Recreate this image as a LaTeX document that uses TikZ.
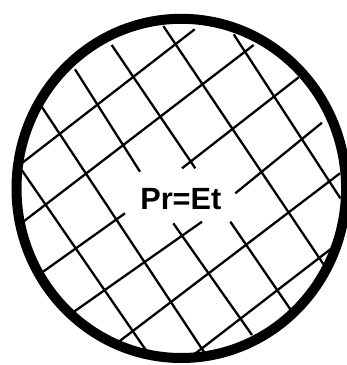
\documentclass[tikz,border=0pt]{standalone}
\usepackage{fontspec}
\setmainfont{Liberation Sans}
\begin{document}
\begin{tikzpicture}[x=1pt,y=-1pt,
  gridline/.style={line width=2.3pt, black},
  rim/.style={line width=10pt, black}]
\useasboundingbox[fill=white] (0,0) rectangle (347,365);
% family A (down-right)
\draw[gridline] (21.7,170) -- (146.3,350.7);
\draw[gridline] (41.7,106.7) -- (205.3,354);
\draw[gridline] (75,69.3) -- (140,171.7);
\draw[gridline] (173.3,223.3) -- (252,335);
\draw[gridline] (111.7,45) -- (195.3,168.3);
\draw[gridline] (230.3,221.7) -- (292,311.7);
\draw[gridline] (163.3,26) -- (324,265);
\draw[gridline] (233.7,34.3) -- (340.5,198.5);
% family B (up-right)
\draw[gridline] (21.7,163.3) -- (194.7,29.3);
\draw[gridline] (23.3,221.7) -- (253.7,45);
\draw[gridline] (41.7,272.7) -- (125,213.3);
\draw[gridline] (182,168.3) -- (298.7,77.3);
\draw[gridline] (71.7,313.3) -- (202,221.7);
\draw[gridline] (235.3,193.3) -- (322,122.7);
\draw[gridline] (116.7,343.3) -- (340,173.3);
\draw[gridline] (193.3,355) -- (331.7,248.3);
% rim
\draw[rim] (181.3,188.4) ellipse [x radius=164.8, y radius=169.6];
\node (eq) [anchor=base, inner sep=0pt, font=\fontsize{30.7}{36}\selectfont\bfseries] at (180.8,209.3) {Pr=Et};
\end{tikzpicture}
\end{document}
